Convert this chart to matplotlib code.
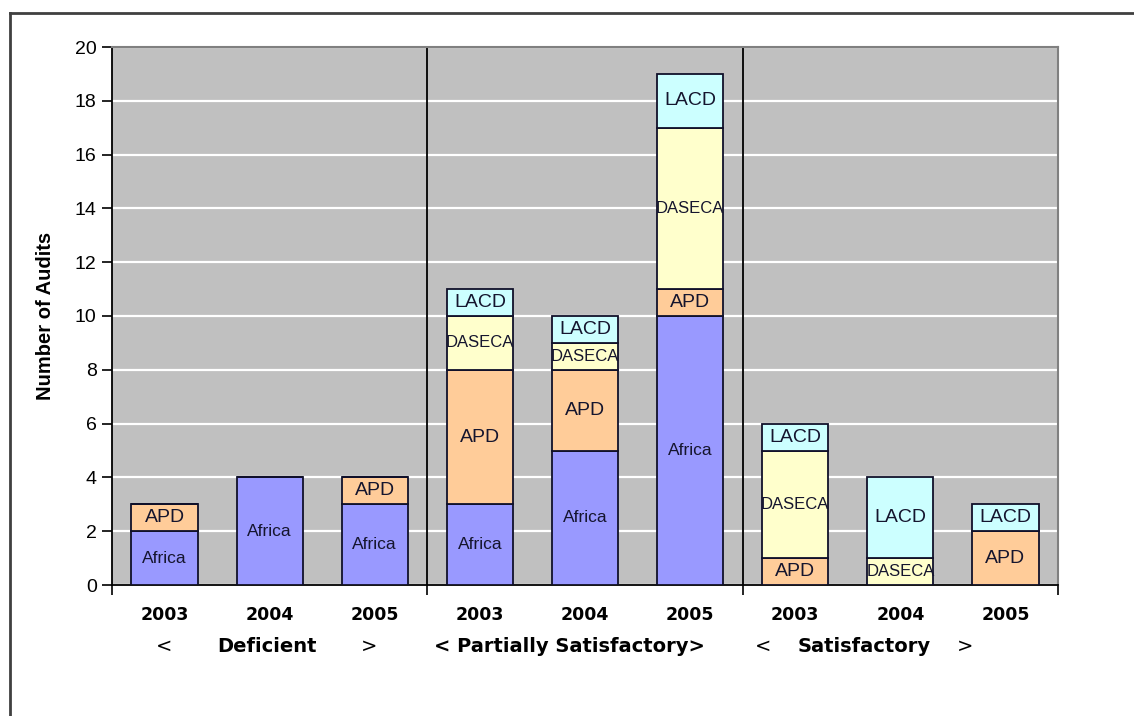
import numpy as np
import matplotlib
matplotlib.use("Agg")
from matplotlib import pyplot as plt
from matplotlib.lines import Line2D
import matplotlib.transforms as mtransforms

# Datos: auditorías por año y calificación
anios = ["2003", "2004", "2005"] * 3
africa = [2, 4, 3, 3, 5, 10, 0, 0, 0]
apd = [1, 0, 1, 5, 3, 1, 1, 0, 2]
daseca = [0, 0, 0, 2, 1, 6, 4, 1, 0]
lacd = [0, 0, 0, 1, 1, 2, 1, 3, 1]

series = [("Africa", africa, "#9999FF"),
          ("APD", apd, "#FFCC99"),
          ("DASECA", daseca, "#FFFFCC"),
          ("LACD", lacd, "#CCFFFF")]
tam_etiqueta = {"Africa": 12.5, "APD": 14, "DASECA": 12, "LACD": 14}

fig = plt.figure(figsize=(11.34, 7.16), dpi=100)
ax = fig.add_axes([112/1134, 131/716, 946/1134, 538/716])
ax.set_facecolor("#C0C0C0")

x = np.arange(len(anios))
base = np.zeros(len(anios))
for nombre, valores, color in series:
    valores = np.array(valores, dtype=float)
    ax.bar(x, valores, bottom=base, width=0.63, color=color,
           edgecolor="#10102a", linewidth=1.3, zorder=3)
    for xi, b, v in zip(x, base, valores):
        if v > 0:
            ax.text(xi, b + v/2, nombre, ha="center", va="center",
                    fontsize=tam_etiqueta[nombre], color="#15152e",
                    family="Liberation Sans", zorder=4)
    base += valores

# Ejes y cuadrícula
ax.set_xlim(-0.5, 8.5)
ax.set_ylim(0, 20)
ax.set_yticks(np.arange(0, 21, 2))
ax.yaxis.grid(True, color="white", linewidth=1.6, zorder=1)
ax.set_axisbelow(True)
ax.tick_params(axis="y", direction="out", length=7, width=1.2,
               labelsize=14, pad=4)
for t in ax.get_yticklabels():
    t.set_family("Liberation Sans")
ax.set_xticks([-0.5, 2.5, 5.5, 8.5])
ax.set_xticklabels([])
ax.tick_params(axis="x", direction="out", length=7, width=1.2)

for lado in ["left", "bottom"]:
    ax.spines[lado].set_color("black")
    ax.spines[lado].set_linewidth(1.3)
for lado in ["top", "right"]:
    ax.spines[lado].set_color("#808080")
    ax.spines[lado].set_linewidth(1.5)

# Separadores entre grupos
for xs in [2.5, 5.5]:
    ax.axvline(xs, color="black", linewidth=1.3, zorder=2)

ax.set_ylabel("Number of Audits", fontsize=14.5, fontweight="bold",
              family="Liberation Sans", labelpad=14)

# Etiquetas de años y grupos
trans = mtransforms.blended_transform_factory(ax.transData, ax.transAxes)
for xi, a in zip(x, anios):
    ax.text(xi, -0.056, a, transform=trans, ha="center", va="center",
            fontsize=12.5, fontweight="bold", family="DejaVu Sans")

grupos = [(0, "<"), (0.97, "Deficient"), (1.95, ">"),
          (3.85, "< Partially Satisfactory>"),
          (5.69, "<"), (6.66, "Satisfactory"), (7.62, ">")]
for xg, txt in grupos:
    ax.text(xg, -0.115, txt, transform=trans, ha="center", va="center",
            fontsize=14, fontweight="bold" if txt not in "<>" else "normal",
            family="DejaVu Sans")

# Marco exterior
fig.add_artist(Line2D([10/1134, 10/1134], [0, 1 - 13/716],
                      color="#404040", linewidth=2))
fig.add_artist(Line2D([10/1134, 1], [1 - 13/716, 1 - 13/716],
                      color="#404040", linewidth=2))

fig.savefig("out.png", dpi=100)
